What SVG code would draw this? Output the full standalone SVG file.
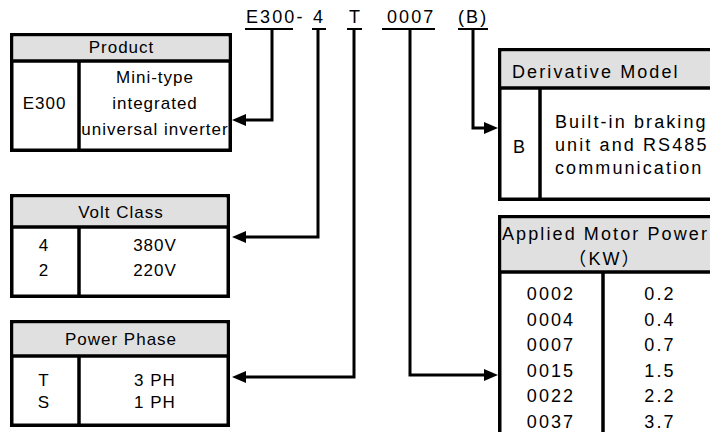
<svg xmlns="http://www.w3.org/2000/svg" width="710" height="432" viewBox="0 0 710 432">
<defs>
<marker id="ah" markerUnits="userSpaceOnUse" markerWidth="14" markerHeight="12" refX="4" refY="6" orient="auto">
<path d="M0,0 L14,6 L0,12 z" fill="#000"/>
</marker>
<style>
text{font-family:"Liberation Sans",Arial,"Noto Sans CJK SC",sans-serif;font-size:17px;fill:#000;letter-spacing:1px}
.c{text-anchor:middle}
.r{font-size:18px;letter-spacing:2.1px}
.box{fill:#fff;stroke:#000;stroke-width:3.5}
.hd{fill:#e0e0e0}
.ln{stroke:#000;stroke-width:3.5;fill:none}
.con{stroke:#000;stroke-width:3;fill:none}
.ul{stroke:#000;stroke-width:2}
</style>
</defs>
<rect width="710" height="432" fill="#fff"/>

<g id="code">
<text class="r" x="246" y="23">E300-</text>
<text class="r" x="313" y="23">4</text>
<text class="r" x="349" y="23">T</text>
<text class="r" x="387" y="23">0007</text>
<text class="r" x="458" y="23">(B)</text>
<line class="ul" x1="245" y1="29" x2="293" y2="29"/>
<line class="ul" x1="312" y1="29" x2="326" y2="29"/>
<line class="ul" x1="347" y1="29" x2="362" y2="29"/>
<line class="ul" x1="382" y1="29" x2="435" y2="29"/>
<line class="ul" x1="458" y1="29" x2="488" y2="29"/>
</g>

<g id="product">
<rect class="box" x="11.75" y="34.75" width="218.5" height="115.5"/>
<rect class="hd" x="13.5" y="36.5" width="215" height="24"/>
<line class="ln" x1="10" y1="61" x2="232" y2="61"/>
<line class="ln" x1="79" y1="61" x2="79" y2="152"/>
<text class="c" x="121.5" y="53">Product</text>
<text class="c" x="44.5" y="109">E300</text>
<text class="c" x="155" y="83">Mini-type</text>
<text class="c" x="155" y="109">integrated</text>
<text class="c" x="155" y="135">universal inverter</text>
</g>

<g id="volt">
<rect class="box" x="11.75" y="195.75" width="216.5" height="100.5"/>
<rect class="hd" x="13.5" y="197.5" width="213" height="29"/>
<line class="ln" x1="10" y1="227" x2="230" y2="227"/>
<line class="ln" x1="79" y1="227" x2="79" y2="298"/>
<text class="c" x="121" y="218">Volt Class</text>
<text class="c" x="44" y="251">4</text>
<text class="c" x="155" y="251">380V</text>
<text class="c" x="44" y="276">2</text>
<text class="c" x="155" y="276">220V</text>
</g>

<g id="phase">
<rect class="box" x="11.75" y="321.75" width="216.5" height="103.5"/>
<rect class="hd" x="13.5" y="323.5" width="213" height="32"/>
<line class="ln" x1="10" y1="356" x2="230" y2="356"/>
<line class="ln" x1="79" y1="356" x2="79" y2="427"/>
<text class="c" x="121" y="345">Power Phase</text>
<text class="c" x="44" y="386">T</text>
<text class="c" x="155" y="386">3 PH</text>
<text class="c" x="44" y="408">S</text>
<text class="c" x="155" y="408">1 PH</text>
</g>

<g id="derivative">
<rect class="box" x="499.75" y="49.75" width="220" height="149.5"/>
<rect class="hd" x="501.5" y="51.5" width="216" height="36"/>
<line class="ln" x1="498" y1="88" x2="712" y2="88"/>
<line class="ln" x1="540" y1="88" x2="540" y2="201"/>
<text class="r" x="512" y="78">Derivative Model</text>
<text class="r c" x="520" y="153">B</text>
<text class="r" x="555" y="128">Built-in braking</text>
<text class="r" x="555" y="151">unit and RS485</text>
<text class="r" x="555" y="174">communication</text>
</g>

<g id="motor">
<rect class="box" x="499.75" y="216.75" width="220" height="230"/>
<rect class="hd" x="501.5" y="218.5" width="216" height="53"/>
<line class="ln" x1="498" y1="272" x2="712" y2="272"/>
<line class="ln" x1="603" y1="272" x2="603" y2="440"/>
<text class="r" x="502" y="240">Applied Motor Power</text>
<text class="r c" x="605" y="265">（KW）</text>
<text class="r c" x="551" y="300">0002</text>
<text class="r c" x="660" y="300">0.2</text>
<text class="r c" x="551" y="325.5">0004</text>
<text class="r c" x="660" y="325.5">0.4</text>
<text class="r c" x="551" y="351">0007</text>
<text class="r c" x="660" y="351">0.7</text>
<text class="r c" x="551" y="376.5">0015</text>
<text class="r c" x="660" y="376.5">1.5</text>
<text class="r c" x="551" y="402">0022</text>
<text class="r c" x="660" y="402">2.2</text>
<text class="r c" x="551" y="427.5">0037</text>
<text class="r c" x="660" y="427.5">3.7</text>
</g>

<g id="connectors">
<path class="con" d="M272,29 V120 H242" marker-end="url(#ah)"/>
<path class="con" d="M318,29 V237 H242" marker-end="url(#ah)"/>
<path class="con" d="M354,29 V377 H242" marker-end="url(#ah)"/>
<path class="con" d="M410,29 V375 H488" marker-end="url(#ah)"/>
<path class="con" d="M473,29 V128 H488" marker-end="url(#ah)"/>
</g>
</svg>
